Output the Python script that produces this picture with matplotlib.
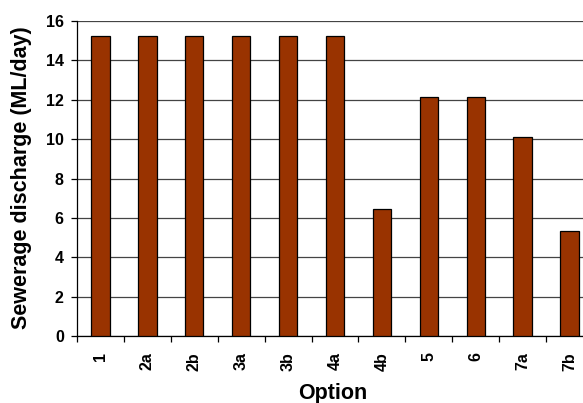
import matplotlib
matplotlib.use("Agg")
import matplotlib.pyplot as plt
import numpy as np

options = ["1", "2a", "2b", "3a", "3b", "4a", "4b", "5", "6", "7a", "7b"]
discharge = [15.25, 15.25, 15.25, 15.25, 15.25, 15.25, 6.45, 12.13, 12.13, 10.12, 5.35]
y_ticks = [0, 2, 4, 6, 8, 10, 12, 14, 16]

plt.rcParams["font.family"] = ["Liberation Sans", "DejaVu Sans"]
plt.rcParams["font.weight"] = "bold"

fig = plt.figure(figsize=(5.83, 4.03), dpi=100)
ax = fig.add_axes([77 / 583, 1 - 336.3 / 403, (593 - 77) / 583, (336.3 - 21) / 403])

x = np.arange(len(options))
ax.bar(x, discharge, width=0.39, color="#993300", edgecolor="black", linewidth=0.9, zorder=3)

ax.set_xlim(-0.5, len(options) - 0.5)
ax.set_ylim(0, 16)
ax.set_yticks(y_ticks)
ax.set_yticklabels([str(v) for v in y_ticks], fontsize=11.5, fontweight="bold")
ax.yaxis.grid(True, color="#444444", linewidth=0.9, zorder=0)

ax.set_xticks(x)
ax.set_xticklabels(options, rotation=90, fontsize=11.5, fontweight="bold")
ax.set_xticks(np.arange(len(options) + 1) - 0.5, minor=True)
ax.tick_params(axis="x", which="major", length=0, pad=11.5)
ax.tick_params(axis="x", which="minor", length=4.5, width=0.9, direction="out")
ax.tick_params(axis="y", length=4.5, width=0.9, direction="out", pad=5)

for side in ["top", "right"]:
    ax.spines[side].set_visible(False)
for side in ["left", "bottom"]:
    ax.spines[side].set_linewidth(0.9)

fig.text(22 / 583, 1 - 178 / 403, "Sewerage discharge (ML/day)", rotation=90,
         ha="center", va="center", fontsize=15.5, fontweight="bold")
fig.text(333 / 583, 1 - 393 / 403, "Option", ha="center", va="center",
         fontsize=15.5, fontweight="bold")

fig.savefig("out.png", dpi=100)
